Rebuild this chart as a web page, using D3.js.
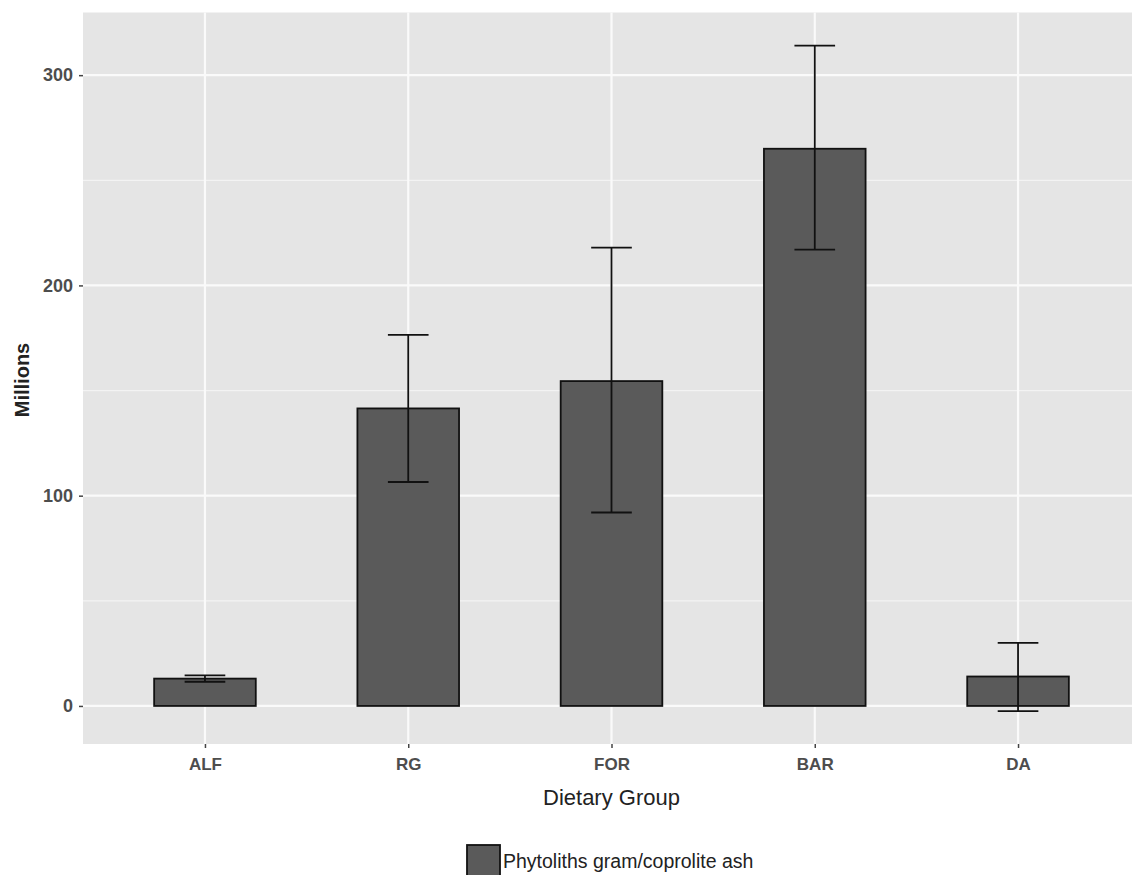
<!DOCTYPE html>
<html>
<head>
<meta charset="utf-8">
<script src="https://cdn.jsdelivr.net/npm/d3@7"></script>
<style>
  body { margin: 0; background: #fff; }
  text { font-family: "Liberation Sans", Arial, sans-serif; }
</style>
</head>
<body>
<div id="graph"></div>
<script>
// data
const groups = ["ALF", "RG", "FOR", "BAR", "DA"];
const means = [13, 141.5, 154.5, 265, 14];
const lower = [11.5, 106.5, 92, 217, -2.5];
const upper = [14.5, 176.5, 218, 314, 30];
const yTicks = [0, 100, 200, 300];
const yMinor = [50, 150, 250];
const legendLabel = "Phytoliths gram/coprolite ash";

const width = 1132, height = 875;
const panel = { left: 83, top: 12.5, right: 1140, bottom: 744 };

const svg = d3.select("#graph").append("svg")
  .attr("width", width)
  .attr("height", height);

// scales (ggplot-like: 0.6 unit padding on discrete axis)
const xScale = d3.scalePoint()
  .domain(groups)
  .range([panel.left, panel.right])
  .padding(0.6);
const step = xScale.step();

const yScale = d3.scaleLinear()
  .domain([-18.1, 329.8])
  .range([panel.bottom, panel.top]);

// panel background
svg.append("rect")
  .attr("x", panel.left)
  .attr("y", panel.top)
  .attr("width", panel.right - panel.left)
  .attr("height", panel.bottom - panel.top)
  .attr("fill", "#e5e5e5");

// minor grid
svg.selectAll(".minor")
  .data(yMinor)
  .enter().append("line")
  .attr("x1", panel.left).attr("x2", panel.right)
  .attr("y1", d => yScale(d)).attr("y2", d => yScale(d))
  .attr("stroke", "#f3f3f3")
  .attr("stroke-width", 1.2);

// major grid
svg.selectAll(".majorY")
  .data(yTicks)
  .enter().append("line")
  .attr("x1", panel.left).attr("x2", panel.right)
  .attr("y1", d => yScale(d)).attr("y2", d => yScale(d))
  .attr("stroke", "#fafafa")
  .attr("stroke-width", 2.2);

svg.selectAll(".majorX")
  .data(groups)
  .enter().append("line")
  .attr("x1", d => xScale(d)).attr("x2", d => xScale(d))
  .attr("y1", panel.top).attr("y2", panel.bottom)
  .attr("stroke", "#fafafa")
  .attr("stroke-width", 2.2);

// bars
const barW = step * 0.5;
svg.selectAll(".bar")
  .data(groups)
  .enter().append("rect")
  .attr("class", "bar")
  .attr("x", d => xScale(d) - barW / 2)
  .attr("y", (d, i) => yScale(means[i]))
  .attr("width", barW)
  .attr("height", (d, i) => yScale(0) - yScale(means[i]))
  .attr("fill", "#5a5a5a")
  .attr("stroke", "#111")
  .attr("stroke-width", 1.8);

// error bars
const capW = step * 0.2;
const err = svg.selectAll(".err")
  .data(groups)
  .enter().append("g")
  .attr("stroke", "#111")
  .attr("stroke-width", 1.8);
err.append("line")
  .attr("x1", d => xScale(d)).attr("x2", d => xScale(d))
  .attr("y1", (d, i) => yScale(lower[i]))
  .attr("y2", (d, i) => yScale(upper[i]));
err.append("line")
  .attr("x1", d => xScale(d) - capW / 2).attr("x2", d => xScale(d) + capW / 2)
  .attr("y1", (d, i) => yScale(upper[i]))
  .attr("y2", (d, i) => yScale(upper[i]));
err.append("line")
  .attr("x1", d => xScale(d) - capW / 2).attr("x2", d => xScale(d) + capW / 2)
  .attr("y1", (d, i) => yScale(lower[i]))
  .attr("y2", (d, i) => yScale(lower[i]));

// y axis
const yAxis = svg.append("g")
  .attr("transform", "translate(" + panel.left + ",0)")
  .call(d3.axisLeft(yScale).tickValues(yTicks).tickSize(4).tickPadding(6));
yAxis.select(".domain").remove();
yAxis.selectAll(".tick line").attr("stroke", "#444").attr("stroke-width", 1.5);
yAxis.selectAll(".tick text")
  .attr("fill", "#4d4d4d")
  .style("font-size", "18px")
  .style("font-weight", "bold");

// x axis
const xAxis = svg.append("g")
  .attr("transform", "translate(0," + panel.bottom + ")")
  .call(d3.axisBottom(xScale).tickSize(4).tickPadding(10));
xAxis.select(".domain").remove();
xAxis.selectAll(".tick line").attr("stroke", "#444").attr("stroke-width", 1.5);
xAxis.selectAll(".tick text")
  .attr("fill", "#4d4d4d")
  .style("font-size", "17px")
  .style("font-weight", "bold");

// axis titles
svg.append("text")
  .attr("x", xScale("FOR"))
  .attr("y", 805)
  .attr("text-anchor", "middle")
  .attr("fill", "#222")
  .style("font-size", "22px")
  .text("Dietary Group");

svg.append("text")
  .attr("transform", "translate(29,380) rotate(-90)")
  .attr("text-anchor", "middle")
  .attr("fill", "#222")
  .style("font-size", "20px")
  .style("font-weight", "bold")
  .text("Millions");

// legend
svg.append("rect")
  .attr("x", 467)
  .attr("y", 845)
  .attr("width", 33)
  .attr("height", 34)
  .attr("fill", "#5a5a5a")
  .attr("stroke", "#111")
  .attr("stroke-width", 1.8);

svg.append("text")
  .attr("x", 503)
  .attr("y", 868)
  .attr("fill", "#222")
  .style("font-size", "19.5px")
  .text(legendLabel);
</script>
</body>
</html>
